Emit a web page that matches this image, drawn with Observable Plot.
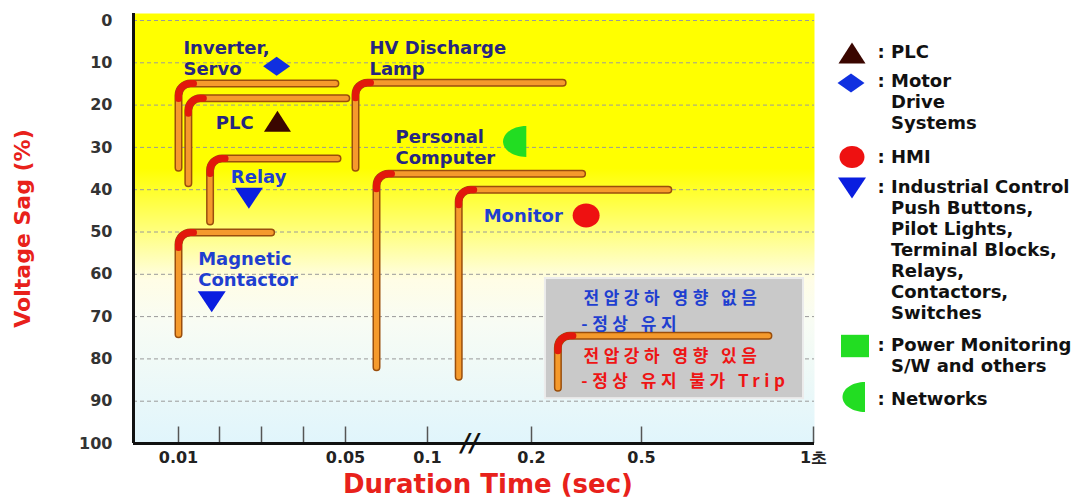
<!DOCTYPE html>
<html><head><meta charset="utf-8">
<script src="https://cdn.jsdelivr.net/npm/d3@7"></script>
<script src="https://cdn.jsdelivr.net/npm/@observablehq/plot@0.6"></script>
<style>
html,body{margin:0;padding:0;background:#fff;}
#wrap{position:relative;width:1085px;height:499px;overflow:hidden;font-family:"DejaVu Sans",sans-serif;}
#chart{position:absolute;left:0;top:0;}
#chart g.keytext text{letter-spacing:4.5px;}
.lg{position:absolute;left:891px;font-weight:bold;font-size:18px;line-height:21px;color:#111;white-space:pre;text-indent:-13.5px;}
.ic{position:absolute;width:40px;height:40px;overflow:visible;}
</style></head><body><div id="wrap"><div id="chart"></div></div>
<script>
// ---------- data ----------
const sagTicks = [0,10,20,30,40,50,60,70,80,90,100];
const durationTicks = [0.01,0.02,0.03,0.04,0.05,0.1,0.2,0.5,1];
const durationLabelValues = [0.01,0.05,0.1,0.2,0.5,1];
const durationLabels = ["0.01","0.05","0.1","0.2","0.5","1초"];
const axisBreak = [0.141];

const pipeNames = ["Inverter/Servo","PLC","Relay","Magnetic Contactor","HV Discharge Lamp","Personal Computer","Monitor","Key"];
const pipeDuration = [0.01, 0.0124, 0.0177, 0.01, 0.0561, 0.0689, 0.130, 0.272];
const pipeDurationEnd = [0.0476, 0.0505, 0.0481, 0.0323, 0.285, 0.338, 0.578, 0.869];
const pipeSagTop = [14.9, 18.4, 32.6, 50.1, 14.7, 36.2, 40.0, 74.5];
const pipeSagBottom = [34.8, 38.5, 47.5, 74.2, 34.8, 82.0, 84.2, 86.8];

const markerShape = ["diamond","triUp","triDown","triDown","halfDisc","ellipse"];
const markerDuration = [0.0336, 0.0338, 0.0270, 0.0181, 0.195, 0.349];
const markerSag = [10.8, 23.8, 42.0, 66.5, 28.6, 46.1];

const labelText = ["Inverter,\nServo","PLC","Relay","Magnetic\nContactor","HV Discharge\nLamp","Personal\nComputer","Monitor"];
const labelDuration = [0.0112, 0.0191, 0.0227, 0.0148, 0.0646, 0.0805, 0.154];
const labelSag = [8.9, 24.1, 36.9, 58.6, 8.9, 29.9, 46.1];
const labelTone = ["navy","navy","blue","blue","navy","navy","blue"];

const keyBox = {x1: 0.238, x2: 0.971, y1: 61.0, y2: 89.4};
const keyText = ["전압강하 영향 없음", "-정상 유지", "전압강하 영향 있음", "-정상 유지 불가 Trip"];
const keyDuration = [0.342, 0.336, 0.342, 0.336];
const keySag = [65.8, 71.8, 79.5, 85.4];
const keyTone = ["blue","blue","red","red"];

const legendShape = ["triUp","diamond","ellipse","triDown","square","halfDisc"];
const legendText = [": PLC", ": Motor\nDrive\nSystems", ": HMI",
  ": Industrial Control\nPush Buttons,\nPilot Lights,\nTerminal Blocks,\nRelays,\nContactors,\nSwitches",
  ": Power Monitoring\nS/W and others", ": Networks"];

// ---------- styles ----------
const tones = {navy:"#262680", blue:"#1f3fd0", red:"#ee1414"};
const shapeColor = {diamond:"#1030e0", triUp:"#3a0600", triDown:"#0a1ee0", halfDisc:"#22dd22", ellipse:"#ee1111", square:"#22dd22"};
const shapeR = {diamond:13.5, triUp:13.5, triDown:14, halfDisc:15.5, ellipse:13.5, square:14};
const K = 0.5523;
const sym = {
  triUp:{draw(c,s){const r=Math.sqrt(s/Math.PI),h=0.78*r;c.moveTo(0,-h);c.lineTo(r,h);c.lineTo(-r,h);c.closePath();}},
  triDown:{draw(c,s){const r=Math.sqrt(s/Math.PI),h=0.75*r;c.moveTo(-r,-h);c.lineTo(r,-h);c.lineTo(0,h);c.closePath();}},
  diamond:{draw(c,s){const r=Math.sqrt(s/Math.PI),h=0.7*r;c.moveTo(0,-h);c.lineTo(r,0);c.lineTo(0,h);c.lineTo(-r,0);c.closePath();}},
  ellipse:{draw(c,s){const rx=Math.sqrt(s/Math.PI),ry=0.88*rx;
    c.moveTo(rx,0);c.bezierCurveTo(rx,K*ry,K*rx,ry,0,ry);c.bezierCurveTo(-K*rx,ry,-rx,K*ry,-rx,0);
    c.bezierCurveTo(-rx,-K*ry,-K*rx,-ry,0,-ry);c.bezierCurveTo(K*rx,-ry,rx,-K*ry,rx,0);c.closePath();}},
  halfDisc:{draw(c,s){const ry=Math.sqrt(s/Math.PI),rx=1.5*ry;
    c.moveTo(0,-ry);c.bezierCurveTo(-K*rx,-ry,-rx,-K*ry,-rx,0);c.bezierCurveTo(-rx,K*ry,-K*rx,ry,0,ry);c.closePath();}},
  square:{draw(c,s){const r=Math.sqrt(s/Math.PI),h=0.8*r;c.rect(-r,-h,2*r,2*h);}}
};

// rounded-corner curve for the "pipe" shapes
function cornerCurve(r, cornerOnly, ext) {
  return (ctx) => {
    let pts = [];
    return {
      areaStart(){}, areaEnd(){},
      lineStart(){ pts = []; },
      point(x,y){ pts.push([+x,+y]); },
      lineEnd(){
        if (pts.length < 3) { pts.forEach((p,i)=> i?ctx.lineTo(p[0],p[1]):ctx.moveTo(p[0],p[1])); return; }
        const [a,b,c] = pts;
        if (!cornerOnly) { ctx.moveTo(a[0],a[1]); ctx.arcTo(b[0],b[1],c[0],c[1],r); ctx.lineTo(c[0],c[1]); return; }
        const u1=[a[0]-b[0],a[1]-b[1]], l1=Math.hypot(...u1); u1[0]/=l1; u1[1]/=l1;
        const u2=[c[0]-b[0],c[1]-b[1]], l2=Math.hypot(...u2); u2[0]/=l2; u2[1]/=l2;
        ctx.moveTo(b[0]+u1[0]*(r+ext), b[1]+u1[1]*(r+ext));
        ctx.arcTo(b[0],b[1],c[0],c[1],r);
        ctx.lineTo(b[0]+u2[0]*(r+ext), b[1]+u2[1]*(r+ext));
      }
    };
  };
}

// ---------- tables ----------
const pipePts = pipeNames.flatMap((name,i)=>[
  {name, x:pipeDuration[i], y:pipeSagBottom[i]},
  {name, x:pipeDuration[i], y:pipeSagTop[i]},
  {name, x:pipeDurationEnd[i], y:pipeSagTop[i]}
]);
const markers = markerShape.map((shape,i)=>({shape, x:markerDuration[i], y:markerSag[i]}));
const labels = labelText.map((t,i)=>({t, x:labelDuration[i], y:labelSag[i], c:tones[labelTone[i]]}));
const keys = keyText.map((t,i)=>({t, x:keyDuration[i], y:keySag[i], c:tones[keyTone[i]]}));
const labelMap = new Map(durationLabelValues.map((v,i)=>[v,durationLabels[i]]));

const shapes = [...new Set(markerShape)];

const plot = Plot.plot({
  width: 830, height: 499,
  marginLeft: 133, marginRight: 16, marginTop: 13, marginBottom: 56,
  style: {fontFamily: '"DejaVu Sans", sans-serif', background: "transparent", overflow: "visible"},
  x: {type: "linear", domain: [0, ...durationTicks], range: [133,178,219,261,303,345,427,531,641,813]},
  y: {domain: [0,100], range: [20,443]},
  marks: [
    Plot.frame({fill: "url(#bgGrad)", stroke: "none"}),
    Plot.ruleY(sagTicks.filter(d=>d<100), {stroke:"#9a9a9a", strokeDasharray:"4,3", strokeWidth:1}),
    Plot.rect([keyBox], {x1:"x1", x2:"x2", y1:"y1", y2:"y2", fill:"#c9c9c9", stroke:"#ececec", strokeWidth:2}),
    Plot.line(pipePts, {x:"x", y:"y", z:"name", curve: cornerCurve(12,false,0), stroke:"#9a4e0c", strokeWidth:8}),
    Plot.line(pipePts, {x:"x", y:"y", z:"name", curve: cornerCurve(12,false,0), stroke:"#f59a2c", strokeWidth:5}),
    Plot.line(pipePts, {x:"x", y:"y", z:"name", curve: cornerCurve(12,true,3), stroke:"#e2180c", strokeWidth:7}),
    ...shapes.map(s => Plot.dot(markers.filter(m=>m.shape===s), {x:"x", y:"y", symbol: sym[s], r: shapeR[s], fill: shapeColor[s], stroke: "none"})),
    Plot.text(labels, {x:"x", y:"y", text:"t", fill:"c", textAnchor:"start", fontSize:18, fontWeight:"bold", lineHeight:1.17}),
    Plot.text(keys, {x:"x", y:"y", text:"t", fill:"c", textAnchor:"start", fontSize:17, fontWeight:"bold", fontFamily:'"Noto Sans CJK KR", sans-serif', className:"keytext"}),
    Plot.ruleX(durationTicks, {y1: 96.1, y2: 100, stroke:"#555", strokeWidth:1.5}),
    Plot.ruleX([0], {stroke:"#111", strokeWidth:3}),
    Plot.ruleY([100], {stroke:"#111", strokeWidth:3}),
    Plot.text(axisBreak, {x: d=>d, y: 100, text: ()=>"//", fontSize: 24, fontWeight: "bold", fontStyle: "italic", fill: "#111"}),
    Plot.axisY({ticks: sagTicks, tickSize: 0, tickPadding: 21, fontSize: 16, fontWeight: "bold", fill: "#333", label: null}),
    Plot.axisX({ticks: durationLabelValues, tickFormat: d => labelMap.get(d), tickSize: 0, tickPadding: 8, fontSize: 16, fontWeight: "bold", fill: "#222", label: null}),
    Plot.text(["Voltage Sag (%)"], {frameAnchor: "left", textAnchor: "middle", lineAnchor: "middle", rotate: -90, dx: -111, fontSize: 22, fontWeight: "bold", fill: "#e8211b"}),
    Plot.text(["Duration Time (sec)"], {frameAnchor: "bottom", textAnchor: "middle", lineAnchor: "middle", dx: 14, dy: 41, fontSize: 26, fontWeight: "bold", fill: "#e8211b"})
  ]
});

// gradient background definition
const ns = "http://www.w3.org/2000/svg";
const defs = document.createElementNS(ns, "defs");
const grad = document.createElementNS(ns, "linearGradient");
grad.setAttribute("id","bgGrad"); grad.setAttribute("x1","0"); grad.setAttribute("y1","0"); grad.setAttribute("x2","0"); grad.setAttribute("y2","1");
[["0%","#ffff00"],["36%","#ffff00"],["50%","#ffff78"],["62%","#fffde6"],["72%","#f8fcf4"],["100%","#e0f5fc"]].forEach(([o,c])=>{
  const s = document.createElementNS(ns,"stop"); s.setAttribute("offset",o); s.setAttribute("stop-color",c); grad.appendChild(s);
});
defs.appendChild(grad);
plot.insertBefore(defs, plot.firstChild);
document.getElementById("chart").appendChild(plot);

// ---------- legend ----------
const legendIconCenter = [[852,53],[851,83],[852,157],[852,188],[855,346],[865,397]];
const legendTextTop = [41,70,146,176,334,388];
const wrap = document.getElementById("wrap");
legendShape.forEach((s,i)=>{
  const svg = document.createElementNS(ns,"svg");
  svg.setAttribute("class","ic");
  svg.setAttribute("width","40"); svg.setAttribute("height","40");
  svg.style.left = (legendIconCenter[i][0]-20)+"px";
  svg.style.top = (legendIconCenter[i][1]-20)+"px";
  const p = d3.path();
  const r = s==="halfDisc" ? 15 : s==="ellipse" ? 12.5 : shapeR[s];
  sym[s].draw(p, r*r*Math.PI);
  const path = document.createElementNS(ns,"path");
  path.setAttribute("d", p.toString());
  path.setAttribute("transform","translate(20,20)");
  path.setAttribute("fill", shapeColor[s]);
  svg.appendChild(path);
  wrap.appendChild(svg);
  const div = document.createElement("div");
  div.className = "lg";
  div.style.top = legendTextTop[i]+"px";
  div.textContent = legendText[i];
  wrap.appendChild(div);
});
</script></body></html>
